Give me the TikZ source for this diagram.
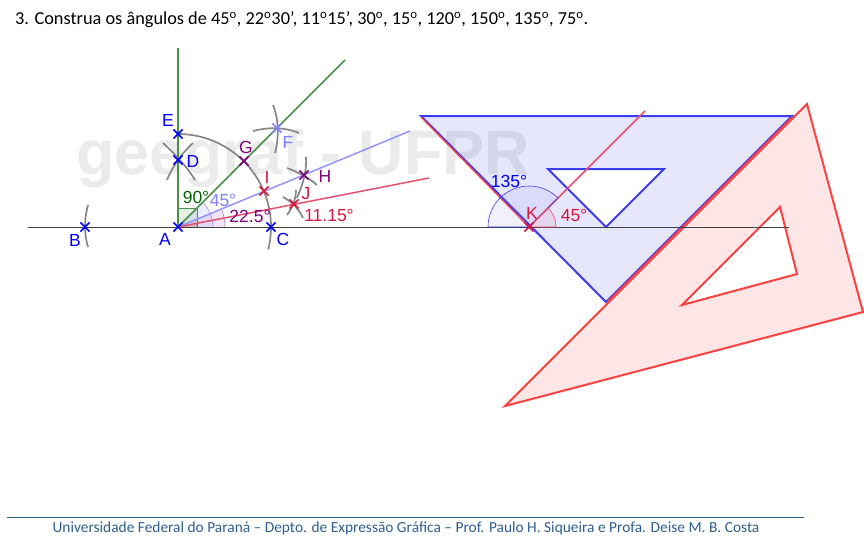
\documentclass[tikz,border=0pt]{standalone}
\usepackage{fontspec}
\setmainfont{Carlito}
\newfontfamily\geofont{Liberation Sans}
\usetikzlibrary{shapes.misc}
\definecolor{geoBlue}{HTML}{0000FF}
\definecolor{geoGreen}{HTML}{006400}
\definecolor{lineGreen}{HTML}{4A8F4A}
\definecolor{geoLilac}{HTML}{8080FF}
\definecolor{geoPurple}{HTML}{7D007D}
\definecolor{geoRed}{HTML}{DC143C}
\definecolor{lineRed}{HTML}{E5506E}
\definecolor{rulerBlue}{HTML}{3C3CF0}
\definecolor{rulerRed}{HTML}{FF4040}
\definecolor{footBlue}{HTML}{2F5F8F}

\begin{document}
\begin{tikzpicture}[x=1pt,y=-1pt,
		stylePoint/.style={draw=#1, cross out, line width=1.7pt, inner sep=0pt, minimum size=7.5pt},
		styleLabel/.style={text=#1, inner sep=0pt, font=\geofont\fontsize{17.5}{17.5}\selectfont},
		styleTrace/.style={draw=gray!95, line width=1.7pt},
		styleRay/.style={line width=1.5pt},
		styleRuler/.style={line width=2pt, fill opacity=0.13, even odd rule},
	]
	\useasboundingbox (0,0) rectangle (864,552);
	% watermark
	\node(mark)[text=black!8, inner sep=0pt, font=\geofont\bfseries\fontsize{62.8}{62.8}\selectfont] at (303,158) {geegraf - UFPR};

	% points
	\coordinate (lineL) at (28,227);
	\coordinate (lineR) at (789,227);
	\coordinate (top) at (178,48);
	\coordinate (endG) at (345,60);
	\coordinate (endH) at (410,131);
	\coordinate (endJ) at (429,178);
	\coordinate (endK) at (645,111);

	\coordinate (A) at (178,227);
	\coordinate (K) at (529,227);

	% angles at A
	\fill[geoPurple, fill opacity=0.1] (A) -- ++(47,0) arc (0:-22.5:47) -- cycle;
	\draw[geoPurple!60, line width=0.5pt] (A) ++(47,0) arc (0:-22.5:47);
	\fill[geoLilac, fill opacity=0.14] (A) -- ++(35,0) arc (0:-45:35) -- cycle;
	\draw[geoLilac, line width=0.5pt] (A) ++(35,0) arc (0:-45:35);
	\fill[geoRed, fill opacity=0.1] (A) -- ++(19,0) arc (0:-11.25:19) -- cycle;
	\draw[geoRed!70, line width=0.5pt] (A) ++(19,0) arc (0:-11.25:19);
	\draw[lineGreen, line width=0.5pt, fill=geoGreen, fill opacity=0.1] (A) rectangle ++(19,-19);

	% construction
	\draw[black!75, line width=1pt] (lineL) -- (lineR);
	\draw[styleTrace] (178,134) arc (-90:14:93);
	\draw[styleTrace] (88,205) .. controls (84,220) and (84,233) .. (88,247);
	\draw[styleTrace] (163,143) .. controls (176,155) and (188,168) .. (195,180);
	\draw[styleTrace] (193,143) .. controls (180,155) and (172,168) .. (167,180);
	\draw[styleTrace] (253,131) .. controls (268,127) and (285,127) .. (299,133);
	\draw[styleTrace] (273,105) .. controls (279,120) and (279,138) .. (275,153);
	\draw[styleTrace] (287,168) .. controls (298,172) and (309,178) .. (317,185);
	\draw[styleTrace] (306,157) .. controls (307,170) and (303,184) .. (297,198);
	\draw[styleTrace] (283,197) .. controls (292,202) and (299,209) .. (303,218);
	\draw[styleTrace] (296,190) .. controls (296,198) and (293,207) .. (287,215);
	\draw[styleRay, lineGreen] (A) -- (top);
	\draw[styleRay, lineGreen] (A) -- (endG);
	\draw[styleRay, geoLilac!85] (A) -- (endH);
	\draw[styleRay, lineRed] (A) -- (endJ);

	% set squares
	\draw[styleRuler, draw=rulerRed, fill=rulerRed] (505,406) -- (807,104) -- (863,312) -- cycle
		(780,207) -- (797,274) -- (682,305) -- cycle;
	\draw[styleRuler, draw=rulerBlue, fill=rulerBlue] (421,116) -- (792,116) -- (606,302) -- cycle
		(548,169) -- (664,169) -- (606,227) -- cycle;
	\draw[rulerRed, line width=1.3pt] (421,117) -- (K);
	\draw[rulerRed, line width=1.3pt] (607,302) -- (792,117);
	\draw[black!75, line width=1pt] (K) -- (lineR);
	\draw[styleRay, lineRed] (K) -- (endK);

	% angles at K
	\draw[rulerBlue, line width=0.6pt, fill=rulerBlue, fill opacity=0.07] (K) -- ++(-41,0) arc (180:315:41) -- cycle;
	\draw[lineRed, line width=0.6pt, fill=geoRed, fill opacity=0.08] (K) -- ++(27,0) arc (0:-45:27) -- cycle;

	% marks on the points
	\node(ptA)[stylePoint=geoBlue] at (A) {};
	\node(ptB)[stylePoint=geoBlue] at (85,227) {};
	\node(ptC)[stylePoint=geoBlue] at (271,227) {};
	\node(ptD)[stylePoint=geoBlue] at (178,160) {};
	\node(ptE)[stylePoint=geoBlue] at (178,134) {};
	\node(ptF)[stylePoint=geoLilac] at (277,128) {};
	\node(ptG)[stylePoint=geoPurple] at (244,161) {};
	\node(ptH)[stylePoint=geoPurple] at (304,175) {};
	\node(ptI)[stylePoint=geoRed] at (264,191) {};
	\node(ptJ)[stylePoint=geoRed] at (294,204) {};
	\node(ptK)[stylePoint=geoRed] at (K) {};

	% labels
	\node(lblA)[styleLabel=geoBlue] at (165,239) {A};
	\node(lblB)[styleLabel=geoBlue] at (75,240) {B};
	\node(lblC)[styleLabel=geoBlue] at (283,239) {C};
	\node(lblD)[styleLabel=geoBlue] at (193,161) {D};
	\node(lblE)[styleLabel=geoBlue] at (168,120) {E};
	\node(lblF)[styleLabel=geoLilac] at (288,142) {F};
	\node(lblG)[styleLabel=geoPurple] at (246,147) {G};
	\node(lblH)[styleLabel=geoPurple] at (325,176) {H};
	\node(lblI)[styleLabel=geoRed] at (267,177) {I};
	\node(lblJ)[styleLabel=geoRed] at (306,194) {J};
	\node(lblK)[styleLabel=geoRed] at (532,213) {K};
	\node(ang90)[styleLabel=geoGreen] at (196,197) {90°};
	\node(ang45)[styleLabel=geoLilac] at (223,200) {45°};
	\node(ang22)[styleLabel=geoPurple] at (250,216) {22.5°};
	\node(ang11)[styleLabel=geoRed] at (329,215) {11.15°};
	\node(ang135)[styleLabel=geoBlue] at (509,181) {135°};
	\node(ang45b)[styleLabel=geoRed] at (574,215) {45°};

	% title and footer
	\node(title)[anchor=west, inner sep=0pt, font=\fontsize{18.3}{18.3}\selectfont] at (15,20) {3. Construa os ângulos de 45\textsuperscript{o}, 22\textsuperscript{o}30', 11\textsuperscript{o}15', 30\textsuperscript{o}, 15\textsuperscript{o}, 120\textsuperscript{o}, 150\textsuperscript{o}, 135\textsuperscript{o}, 75\textsuperscript{o}.};
	\coordinate (ruleL) at (7,517);
	\coordinate (ruleR) at (804,517);
	\draw[footBlue, line width=0.8pt] (ruleL) -- (ruleR);
	\node(foot)[text=footBlue, inner sep=0pt, font=\fontsize{15.4}{15.4}\selectfont] at (406,528) {Universidade Federal do Paraná – Depto. de Expressão Gráfica – Prof. Paulo H. Siqueira e Profa. Deise M. B. Costa};
\end{tikzpicture}
\end{document}
